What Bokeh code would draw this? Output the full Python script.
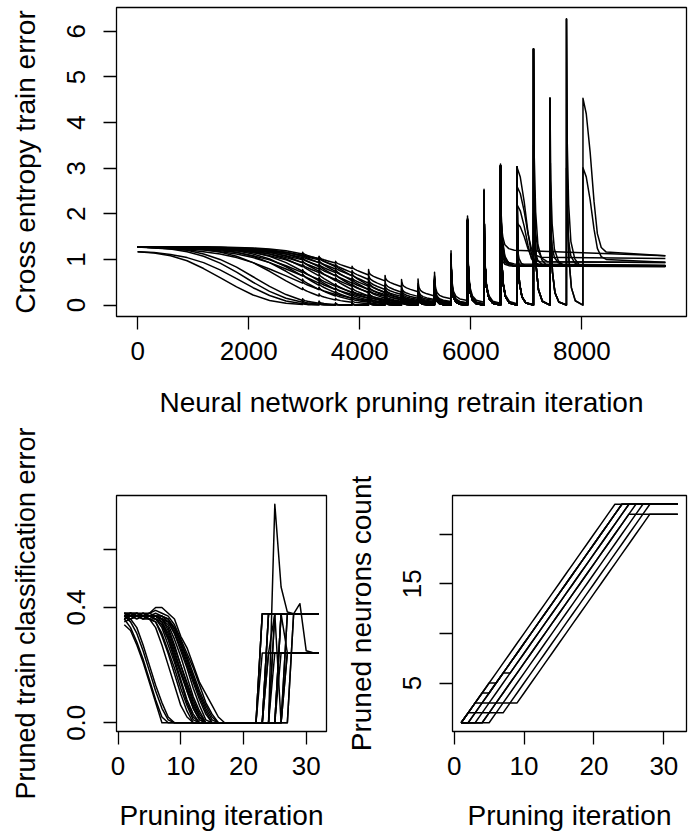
from bokeh.plotting import figure
from bokeh.layouts import column, row
from bokeh.models import FixedTicker
from bokeh.embed import file_html
from bokeh.resources import INLINE

# ---------------- data ----------------
STEPS = 297          # retrain iterations per pruning step
N_PRUNE = 32         # pruning iterations

# Cross entropy at the start of each pruning step (k = 0, 1, 2, ...), trailing values are 0
ce_curves = [
    [1.17, 1.14, 1.08, 0.97, 0.80, 0.60, 0.40, 0.22, 0.10, 0.04, 0.01],
    [1.17, 1.15, 1.11, 1.04, 0.93, 0.77, 0.58, 0.38, 0.21, 0.09, 0.03, 0.01],
    [1.27, 1.26, 1.23, 1.17, 1.07, 0.92, 0.72, 0.50, 0.30, 0.15, 0.06, 0.02],
    [1.27, 1.26, 1.24, 1.20, 1.12, 1.00, 0.83, 0.62, 0.41, 0.23, 0.10, 0.04, 0.01],
    [1.27, 1.26, 1.25, 1.24, 1.21, 1.16, 1.07, 0.93, 0.74, 0.53, 0.34, 0.20, 0.11, 0.06, 0.03, 0.016, 0.008],
    [1.27, 1.25, 1.23, 1.21, 1.17, 1.12, 1.04, 0.93, 0.79, 0.64, 0.48, 0.34, 0.23, 0.15, 0.10, 0.06, 0.04, 0.023, 0.014, 0.008],
    [1.27, 1.27, 1.26, 1.25, 1.24, 1.21, 1.16, 1.07, 0.93, 0.74, 0.53, 0.34, 0.20, 0.11, 0.06, 0.03, 0.016, 0.008],
    [1.27, 1.26, 1.25, 1.23, 1.21, 1.17, 1.12, 1.04, 0.93, 0.79, 0.64, 0.48, 0.34, 0.23, 0.15, 0.10, 0.06, 0.04, 0.023, 0.014, 0.008],
    [1.27, 1.27, 1.27, 1.26, 1.25, 1.24, 1.21, 1.16, 1.07, 0.93, 0.74, 0.53, 0.34, 0.20, 0.11, 0.06, 0.03, 0.016, 0.008],
    [1.27, 1.26, 1.25, 1.24, 1.22, 1.19, 1.15, 1.08, 0.99, 0.86, 0.71, 0.56, 0.41, 0.28, 0.19, 0.12, 0.08, 0.05, 0.03, 0.018, 0.011, 0.007],
    [1.27, 1.27, 1.27, 1.27, 1.26, 1.25, 1.23, 1.19, 1.12, 1.01, 0.84, 0.64, 0.43, 0.27, 0.15, 0.08, 0.04, 0.023, 0.012, 0.006],
    [1.27, 1.27, 1.26, 1.25, 1.24, 1.22, 1.19, 1.15, 1.08, 0.99, 0.86, 0.71, 0.56, 0.41, 0.28, 0.19, 0.12, 0.08, 0.05, 0.03, 0.018, 0.011, 0.007],
    [1.27, 1.27, 1.27, 1.27, 1.27, 1.26, 1.25, 1.23, 1.19, 1.12, 1.01, 0.84, 0.64, 0.43, 0.27, 0.15, 0.08, 0.04, 0.023, 0.012, 0.006],
    [1.27, 1.27, 1.27, 1.26, 1.25, 1.23, 1.21, 1.17, 1.12, 1.04, 0.93, 0.79, 0.64, 0.48, 0.34, 0.23, 0.15, 0.10, 0.06, 0.04, 0.023, 0.014, 0.008],
    [1.27, 1.27, 1.27, 1.27, 1.27, 1.26, 1.25, 1.24, 1.21, 1.16, 1.07, 0.93, 0.74, 0.53, 0.34, 0.20, 0.11, 0.06, 0.03, 0.016, 0.008],
    [1.27, 1.27, 1.27, 1.27, 1.26, 1.25, 1.23, 1.21, 1.17, 1.12, 1.04, 0.93, 0.79, 0.64, 0.48, 0.34, 0.23, 0.15, 0.10, 0.06, 0.04, 0.023, 0.014, 0.008],
    [1.27, 1.27, 1.27, 1.27, 1.26, 1.25, 1.24, 1.22, 1.19, 1.15, 1.08, 0.99, 0.86, 0.71, 0.56, 0.41, 0.28, 0.19, 0.12, 0.08, 0.05, 0.03, 0.018, 0.011, 0.007],
    [1.27, 1.27, 1.27, 1.26, 1.26, 1.25, 1.24, 1.22, 1.19, 1.15, 1.09, 1.02, 0.92, 0.80, 0.66, 0.53, 0.40, 0.29, 0.20, 0.14, 0.10, 0.06, 0.04, 0.027, 0.018, 0.012],
    [1.27, 1.27, 1.27, 1.26, 1.25, 1.23, 1.19, 1.12, 1.01, 0.84, 0.64, 0.43, 0.27, 0.15, 0.08, 0.04, 0.023, 0.012, 0.006],
    [1.27, 1.27, 1.27, 1.27, 1.26, 1.25, 1.24, 1.21, 1.16, 1.07, 0.93, 0.74, 0.53, 0.34, 0.20, 0.11, 0.06, 0.03, 0.016, 0.008],
    [1.27, 1.27, 1.27, 1.26, 1.25, 1.24, 1.22, 1.19, 1.15, 1.08, 0.99, 0.86, 0.71, 0.56, 0.41, 0.28, 0.19, 0.12, 0.08, 0.05, 0.03, 0.018, 0.011, 0.007],
    [1.27, 1.27, 1.27, 1.27, 1.27, 1.27, 1.26, 1.25, 1.23, 1.19, 1.12, 1.01, 0.84, 0.64, 0.43, 0.27, 0.15, 0.08, 0.04, 0.023, 0.012, 0.006],
]
# loss jump caused by pruning at step k (k = 0 .. 27)
prune_jump = [0, 0, 0, 0, 0, 0, 0, 0, 0, 0,
              0.04, 0.05, 0.04, 0.05, 0.12, 0.12, 0.16, 0.28, 0.52, 1.05,
              1.85, 2.48, 3.05, 3.02, 5.61, 4.53, 6.27, 4.53]
# pruning step at which each network breaks down, its peak, and the plateau it settles on
fail_k        = [22, 24, 22, 23, 22, 25, 22, 23, 26, 22, 27, 23, 24, 27, 25, 22, 26, 23, 22, 23, 24, 22]
fail_peak     = [1.6, 5.61, 3.05, 3.02, 2.4, 4.53, 2.0, 2.6, 6.27, 1.3, 4.53, 2.2, 3.5, 3.01, 2.5, 2.8, 3.0, 1.8, 2.6, 1.5, 2.0, 1.9]
plateau_start = [0.86, 0.85, 0.85, 0.87, 1.20, 0.86, 0.90, 1.05, 0.85, 0.85, 1.16, 0.86, 0.95, 1.00, 0.88, 0.85, 0.86, 0.95, 0.85, 0.85, 0.86, 0.87]
plateau_end   = [0.85, 0.85, 0.85, 0.86, 1.08, 0.85, 0.87, 1.02, 0.84, 0.85, 1.08, 0.85, 0.93, 0.94, 0.86, 0.85, 0.85, 0.93, 0.85, 0.85, 0.85, 0.86]
fail_slow     = [0, 0, 0, 1, 0, 0, 0, 1, 0, 0, 1, 1, 0, 1, 0, 0, 0, 1, 0, 0, 0, 0]

# shape of a pruning spike / breakdown (offset in iterations, fraction of height left)
spike_offsets = [1, 8, 20, 45, 90, 160]
spike_frac = [1.0, 0.6, 0.35, 0.16, 0.06, 0.015]
fail_fast_offsets = [1, 15, 40, 80, 150, 250]
fail_fast_frac = [1.0, 0.5, 0.25, 0.1, 0.03, 0.0]
fail_slow_offsets = [1, 60, 130, 200, 260, 330, 420]
fail_slow_frac = [1.0, 0.9, 0.65, 0.33, 0.12, 0.03, 0.0]

# Pruned train classification error per pruning iteration
pruning_iter = list(range(1, N_PRUNE + 1))
cls_pre = [
    [0.34, 0.32, 0.27, 0.21, 0.14, 0.07, 0],
    [0.36, 0.33, 0.28, 0.22, 0.15, 0.08, 0.02, 0],
    [0.37, 0.35, 0.31, 0.25, 0.18, 0.11, 0.05, 0.01, 0],
    [0.37, 0.36, 0.33, 0.27, 0.20, 0.13, 0.07, 0.02, 0],
    [0.38, 0.37, 0.37, 0.36, 0.36, 0.33, 0.27, 0.20, 0.13, 0.06, 0.02, 0],
    [0.37, 0.38, 0.37, 0.37, 0.36, 0.35, 0.30, 0.24, 0.17, 0.10, 0.04, 0],
    [0.36, 0.37, 0.37, 0.37, 0.37, 0.36, 0.33, 0.27, 0.21, 0.14, 0.07, 0.02, 0],
    [0.38, 0.38, 0.37, 0.38, 0.37, 0.36, 0.34, 0.29, 0.22, 0.15, 0.08, 0.03, 0],
    [0.37, 0.37, 0.38, 0.37, 0.37, 0.37, 0.35, 0.31, 0.25, 0.18, 0.11, 0.05, 0.01, 0],
    [0.36, 0.37, 0.37, 0.36, 0.37, 0.37, 0.36, 0.33, 0.27, 0.20, 0.13, 0.07, 0.02, 0],
    [0.38, 0.37, 0.37, 0.37, 0.38, 0.37, 0.36, 0.34, 0.29, 0.23, 0.16, 0.09, 0.04, 0],
    [0.37, 0.38, 0.38, 0.37, 0.37, 0.38, 0.37, 0.35, 0.31, 0.25, 0.19, 0.12, 0.06, 0.01, 0],
    [0.37, 0.36, 0.37, 0.37, 0.36, 0.36, 0.35, 0.30, 0.24, 0.18, 0.12, 0.06, 0.02, 0],
    [0.38, 0.38, 0.37, 0.37, 0.37, 0.37, 0.37, 0.36, 0.32, 0.27, 0.21, 0.15, 0.09, 0.04, 0],
    [0.37, 0.37, 0.38, 0.38, 0.37, 0.37, 0.36, 0.32, 0.26, 0.20, 0.14, 0.08, 0.03, 0],
    [0.36, 0.37, 0.37, 0.37, 0.37, 0.37, 0.37, 0.36, 0.33, 0.28, 0.23, 0.17, 0.11, 0.06, 0.02, 0],
    [0.37, 0.37, 0.37, 0.38, 0.38, 0.40, 0.40, 0.38, 0.36, 0.30, 0.26, 0.20, 0.14, 0.10, 0.06, 0.02, 0],
    [0.37, 0.38, 0.37, 0.37, 0.38, 0.39, 0.38, 0.37, 0.34, 0.29, 0.24, 0.19, 0.13, 0.07, 0.03, 0],
    [0.38, 0.37, 0.37, 0.37, 0.37, 0.36, 0.34, 0.29, 0.23, 0.17, 0.11, 0.05, 0.01, 0],
    [0.37, 0.37, 0.36, 0.37, 0.37, 0.37, 0.36, 0.35, 0.31, 0.26, 0.20, 0.14, 0.08, 0.03, 0],
    [0.35, 0.36, 0.37, 0.37, 0.36, 0.35, 0.31, 0.25, 0.19, 0.12, 0.06, 0.01, 0],
    [0.37, 0.38, 0.38, 0.37, 0.37, 0.37, 0.36, 0.35, 0.33, 0.28, 0.22, 0.16, 0.10, 0.05, 0.01, 0],
]
cls_fail = [23, 24, 25, 26, 23, 24, 27, 25, 26, 28, 23, 24, 25, 27, 26, 28, 24, 23, 25, 27, 26, 24]
cls_post = [
    [0.378] * 10,
    [0.242] * 9,
    [0.758, 0.471, 0.384, 0.378, 0.378, 0.378, 0.378, 0.378],
    [0.378] * 7,
    [0.242] * 10,
    [0.378] * 9,
    [0.378] * 6,
    [0.378, 0.0, 0.378, 0.378, 0.378, 0.378, 0.378, 0.378],
    [0.242] * 7,
    [0.378, 0.413, 0.25, 0.244, 0.242],
    [0.378] * 10,
    [0.378] * 9,
    [0.242] * 8,
    [0.242] * 6,
    [0.378, 0.242, 0.242, 0.242, 0.242, 0.242, 0.242],
    [0.378] * 5,
    [0.242, 0.378, 0.378, 0.378, 0.378, 0.378, 0.378, 0.378, 0.378],
    [0.378] * 10,
    [0.378] * 8,
    [0.242] * 6,
    [0.378] * 7,
    [0.378] * 9,
]

# Pruned neurons count per pruning iteration (distinct run patterns)
pruned_counts = [
    [1, 2, 3, 4, 5, 6, 7, 8, 9, 10, 11, 12, 13, 14, 15, 16, 17, 18, 19, 20, 21, 22, 23, 23, 23, 23, 23, 23, 23, 23, 23, 23],
    [1, 1, 2, 3, 4, 5, 6, 7, 8, 9, 10, 11, 12, 13, 14, 15, 16, 17, 18, 19, 20, 21, 22, 23, 23, 23, 23, 23, 23, 23, 23, 23],
    [1, 1, 1, 2, 3, 4, 5, 6, 7, 8, 9, 10, 11, 12, 13, 14, 15, 16, 17, 18, 19, 20, 21, 22, 23, 23, 23, 23, 23, 23, 23, 23],
    [1, 1, 1, 1, 2, 3, 4, 5, 6, 7, 8, 9, 10, 11, 12, 13, 14, 15, 16, 17, 18, 19, 20, 21, 22, 22, 22, 22, 22, 22, 22, 22],
    [1, 1, 1, 1, 2, 3, 4, 5, 6, 7, 8, 9, 10, 11, 12, 13, 14, 15, 16, 17, 18, 19, 20, 21, 22, 23, 23, 23, 23, 23, 23, 23],
    [1, 1, 1, 1, 1, 2, 3, 4, 5, 6, 7, 8, 9, 10, 11, 12, 13, 14, 15, 16, 17, 18, 19, 20, 21, 22, 23, 23, 23, 23, 23, 23],
    [1, 2, 2, 2, 2, 2, 2, 3, 4, 5, 6, 7, 8, 9, 10, 11, 12, 13, 14, 15, 16, 17, 18, 19, 20, 21, 22, 23, 23, 23, 23, 23],
    [1, 2, 3, 3, 3, 3, 3, 3, 3, 4, 5, 6, 7, 8, 9, 10, 11, 12, 13, 14, 15, 16, 17, 18, 19, 20, 21, 22, 22, 22, 22, 22],
    [1, 2, 3, 4, 4, 5, 6, 7, 8, 9, 10, 11, 12, 13, 14, 15, 16, 17, 18, 19, 20, 21, 22, 23, 23, 23, 23, 23, 23, 23, 23, 23],
    [1, 1, 2, 3, 4, 5, 6, 6, 7, 8, 9, 10, 11, 12, 13, 14, 15, 16, 17, 18, 19, 20, 21, 22, 23, 23, 23, 23, 23, 23, 23, 23],
    [1, 2, 3, 4, 5, 5, 6, 7, 8, 9, 10, 11, 12, 13, 14, 15, 16, 17, 18, 19, 20, 21, 22, 23, 23, 23, 23, 23, 23, 23, 23, 23],
]

top_xticks = [0, 2000, 4000, 6000, 8000]
top_yticks = [0, 1, 2, 3, 4, 5, 6]
iter_ticks = [0, 10, 20, 30]
cls_yticks = [0, 0.2, 0.4, 0.6]
cls_ylabels = {0: "0.0", 0.2: "", 0.4: "0.4", 0.6: ""}
cnt_yticks = [5, 10, 15, 20]
cnt_ylabels = {5: "5", 10: "", 15: "15", 20: ""}

# ---------------- build series ----------------
def base(curve, k):
    return curve[k] if k < len(curve) else 0.0

xs_top, ys_top = [], []
for r, curve in enumerate(ce_curves):
    xs, ys = [], []
    kf = fail_k[r]
    for k in range(kf):
        b0, b1 = base(curve, k), base(curve, k + 1)
        x0 = k * STEPS
        xs.append(x0); ys.append(b0)
        j = prune_jump[k]
        if j > 0:
            for o, f in zip(spike_offsets, spike_frac):
                xs.append(x0 + o); ys.append(b0 + (b1 - b0) * o / STEPS + j * f)
    x0 = kf * STEPS
    xs.append(x0); ys.append(base(curve, kf))
    if fail_slow[r]:
        offs, fr = fail_slow_offsets, fail_slow_frac
    else:
        offs, fr = fail_fast_offsets, fail_fast_frac
    pa, pb, pk = plateau_start[r], plateau_end[r], fail_peak[r]
    for o, f in zip(offs, fr):
        xs.append(x0 + o); ys.append(pa + (pk - pa) * f)
    xs.append(N_PRUNE * STEPS); ys.append(pb)
    xs_top.append(xs); ys_top.append(ys)

ys_cls = []
for pre, f, post in zip(cls_pre, cls_fail, cls_post):
    ys_cls.append(pre + [0.0] * (f - 1 - len(pre)) + post)
xs_cls = [pruning_iter for _ in ys_cls]
xs_cnt = [pruning_iter for _ in pruned_counts]


def rrange(vals):
    lo, hi = min(vals), max(vals)
    pad = 0.04 * (hi - lo)
    return (lo - pad, hi + pad)


FONT = "Liberation Sans"
TICK_SIZE = "26px"
LABEL_SIZE = "28px"
LW = 1.5


def style(p, xticks, yticks, xlabel, ylabel, ylabels=None, xlab_standoff=24, ylab_size=LABEL_SIZE):
    p.xgrid.visible = False
    p.ygrid.visible = False
    p.outline_line_color = "black"
    p.outline_line_width = 1.3
    p.background_fill_color = "white"
    p.border_fill_color = "white"
    p.xaxis.ticker = FixedTicker(ticks=xticks)
    p.yaxis.ticker = FixedTicker(ticks=yticks)
    if ylabels:
        p.yaxis.major_label_overrides = ylabels
    p.xaxis.axis_label = xlabel
    p.yaxis.axis_label = ylabel
    for ax in (p.xaxis, p.yaxis):
        ax.axis_line_color = None
        ax.major_tick_line_color = "black"
        ax.major_tick_line_width = 1.3
        ax.major_tick_out = 13
        ax.major_tick_in = 0
        ax.minor_tick_line_color = None
        ax.major_label_text_font = FONT
        ax.major_label_text_font_size = TICK_SIZE
        ax.major_label_text_color = "black"
        ax.axis_label_text_font = FONT
        ax.axis_label_text_font_size = LABEL_SIZE
        ax.axis_label_text_font_style = "normal"
        ax.axis_label_text_color = "black"
    p.yaxis.axis_label_text_font_size = ylab_size
    p.xaxis.major_label_standoff = 12
    p.xaxis.axis_label_standoff = xlab_standoff
    p.yaxis.major_label_orientation = "vertical"
    p.yaxis.major_label_standoff = 18
    p.yaxis.axis_label_standoff = 24


# ---------------- top panel ----------------
all_x = [v for xs in xs_top for v in xs]
all_y = [v for ys in ys_top for v in ys]
p1 = figure(width=697, height=418, frame_width=570, frame_height=309,
            min_border_left=116, min_border_right=11, min_border_top=7, min_border_bottom=102,
            x_range=rrange(all_x), y_range=rrange(all_y),
            output_backend="svg", toolbar_location=None)
p1.multi_line(xs=xs_top, ys=ys_top, line_color="black", line_width=LW, line_join="round")
style(p1, top_xticks, top_yticks, "Neural network pruning retrain iteration", "Cross entropy train error",
      xlab_standoff=24)

# ---------------- bottom left ----------------
p2 = figure(width=340, height=415, frame_width=210, frame_height=236,
            min_border_left=116, min_border_right=14, min_border_top=75, min_border_bottom=104,
            x_range=rrange(pruning_iter), y_range=rrange([v for ys in ys_cls for v in ys]),
            output_backend="svg", toolbar_location=None)
p2.multi_line(xs=xs_cls, ys=ys_cls, line_color="black", line_width=LW, line_join="round")
style(p2, iter_ticks, cls_yticks, "Pruning iteration", "Pruned train classification error",
      cls_ylabels, xlab_standoff=22, ylab_size="27px")

# ---------------- bottom right ----------------
p3 = figure(width=357, height=415, frame_width=234, frame_height=236,
            min_border_left=112, min_border_right=11, min_border_top=75, min_border_bottom=104,
            x_range=rrange(pruning_iter), y_range=rrange([v for ys in pruned_counts for v in ys]),
            output_backend="svg", toolbar_location=None)
p3.multi_line(xs=xs_cnt, ys=pruned_counts, line_color="black", line_width=LW, line_join="round")
style(p3, iter_ticks, cnt_yticks, "Pruning iteration", "Pruned neurons count",
      cnt_ylabels, xlab_standoff=22)

layout = column(p1, row(p2, p3))
open("out.html", "w").write(file_html(layout, INLINE))
